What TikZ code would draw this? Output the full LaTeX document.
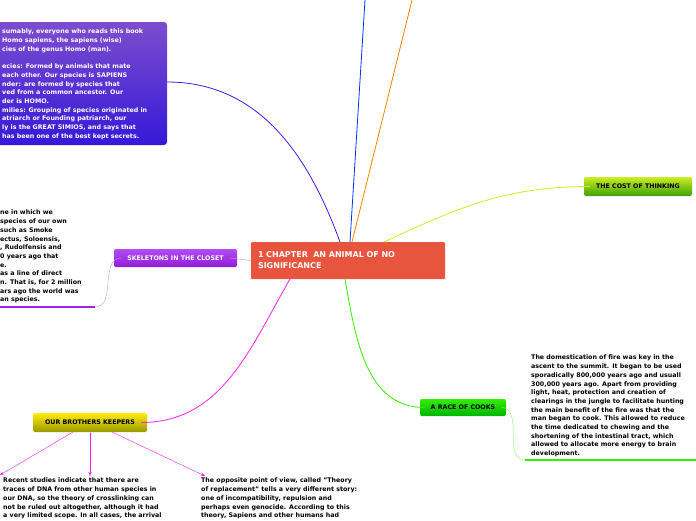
\documentclass[tikz,border=0pt]{standalone}
\usepackage{fontspec}
\setmainfont{DejaVu Sans}
\usetikzlibrary{positioning, arrows.meta}
\definecolor{redc}{HTML}{E8553E}
\definecolor{bluec}{HTML}{3A1CF0}
\definecolor{purc}{HTML}{A020F0}
\definecolor{limec}{HTML}{CCEE22}
\definecolor{greenc}{HTML}{33EE00}
\definecolor{magc}{HTML}{FF22EE}
\tikzset{
  topic/.style={rectangle,rounded corners=2pt,minimum height=18pt,inner xsep=6pt,font=\fontsize{6.3}{7.5}\selectfont\bfseries},
  note/.style={align=left,anchor=north west,inner sep=0pt,font=\fontsize{6.3}{8.7}\selectfont\bfseries},
}
\begin{document}
\begin{tikzpicture}[x=1pt,y=-1pt]
		\useasboundingbox (0,0) rectangle (696,520);
		% boxes
		\shade[top color=blue!45!violet!70!white,bottom color=bluec!90!black,rounded corners=3pt] (-10,22) rectangle (167,145);
		\node[note,text=white] (intro) at (2,29) {sumably, everyone who reads this book\\ Homo sapiens, the sapiens (wise)\\cies of the genus Homo (man).\\[8.7pt]ecies: Formed by animals that mate\\ each other. Our species is SAPIENS\\nder: are formed by species that\\ved from a common ancestor. Our\\der is HOMO.\\milies: Grouping of species originated in\\atriarch or Founding patriarch, our\\ly is the GREAT SIMIOS, and says that\\ has been one of the best kept secrets.};
		\coordinate (introR) at (167,82);

		\node[topic,fill=redc,text=white,minimum width=194pt,minimum height=37pt,align=left,text width=180pt,font=\fontsize{8}{11}\selectfont\bfseries,rounded corners=1pt] (main) at (348,260.5) {1 CHAPTER\ \ AN ANIMAL OF NO\\SIGNIFICANCE};

		\shade[top color=limec,bottom color=green!50!black!70!limec,rounded corners=2pt] (584,177) rectangle (692,196);
		\node[topic] (cost) at (638,186.5) {THE COST OF THINKING};

		\shade[top color=purc!80!white,bottom color=purc!90!black,rounded corners=2pt] (114,249) rectangle (237,267);
		\node[topic,text=white] (skel) at (175.5,258) {SKELETONS IN THE CLOSET};

		\shade[top color=greenc,bottom color=green!70!black,rounded corners=2pt] (420,399) rectangle (506,416);
		\node[topic] (cooks) at (463,407.5) {A RACE OF COOKS};

		\shade[top color=yellow!85!orange,bottom color=olive!80!yellow,rounded corners=2pt] (33,413) rectangle (147,432);
		\node[topic] (keep) at (90,422.5) {OUR BROTHERS KEEPERS};

		% texts
		\node[note] (skelT) at (0,210) {ne in which we\\species of our own\\ such as Smoke\\ectus, Soloensis,\\, Rudolfensis and\\0 years ago that\\e.\\as a line of direct\\n. That is, for 2 million\\ars ago the world was\\an species.};
		\node[note] (cooksT) at (531,355) {The domestication of fire was key in the\\ascent to the summit. It began to be used\\sporadically 800,000 years ago and usuall\\300,000 years ago. Apart from providing\\light, heat, protection and creation of\\clearings in the jungle to facilitate hunting\\the main benefit of the fire was that the\\man began to cook. This allowed to reduce\\the time dedicated to chewing and the\\shortening of the intestinal tract, which\\allowed to allocate more energy to brain\\development.};
		\node[note] (dnaT) at (3,478) {Recent studies indicate that there are\\traces of DNA from other human species in\\our DNA, so the theory of crosslinking can\\not be ruled out altogether, although it had\\a very limited scope. In all cases, the arrival};
		\node[note] (replT) at (201,478) {The opposite point of view, called "Theory\\of replacement" tells a very different story:\\one of incompatibility, repulsion and\\perhaps even genocide. According to this\\theory, Sapiens and other humans had};

		\coordinate (topB) at (365,0);
		\coordinate (topO) at (412,0);
		\coordinate (leftA) at (0,475);
		\coordinate (skelL) at (0,307);
		\coordinate (cooksR) at (696,460);

		% connectors
		\draw[bluec,thick] (introR) to[out=0,in=110] (340,242);
		\draw[blue!80!cyan,thick] (350,242) -- (topB);
		\draw[orange,thick] (352,242) -- (topO);
		\draw[limec,thick] (384,242) to[out=25,in=180] (cost.west);
		\draw[purc!50!white] (main.west) -- (skel.east);
		\draw[purc!50!white] (skel.west) to[out=180,in=0] (95,307);
		\draw[purc,line width=1.5pt] (95,307) -- (skelL);
		\draw[greenc,thick] (345,279) to[out=-80,in=180] (cooks.west);
		\draw[greenc!60!white] (cooks.east) to[out=0,in=180] (525,460);
		\draw[greenc,line width=1.5pt] (525,460) -- (cooksR);
		\draw[magc,thick] (290,279) to[out=-120,in=0] (keep.east);
		\draw[magc,-{Stealth[length=4pt]}] (73,432) -- (leftA);
		\draw[magc,-{Stealth[length=4pt]}] (90,433) -- (90,476);
		\draw[magc,-{Stealth[length=4pt]}] (112,432) -- (205,476);
\end{tikzpicture}
\end{document}
